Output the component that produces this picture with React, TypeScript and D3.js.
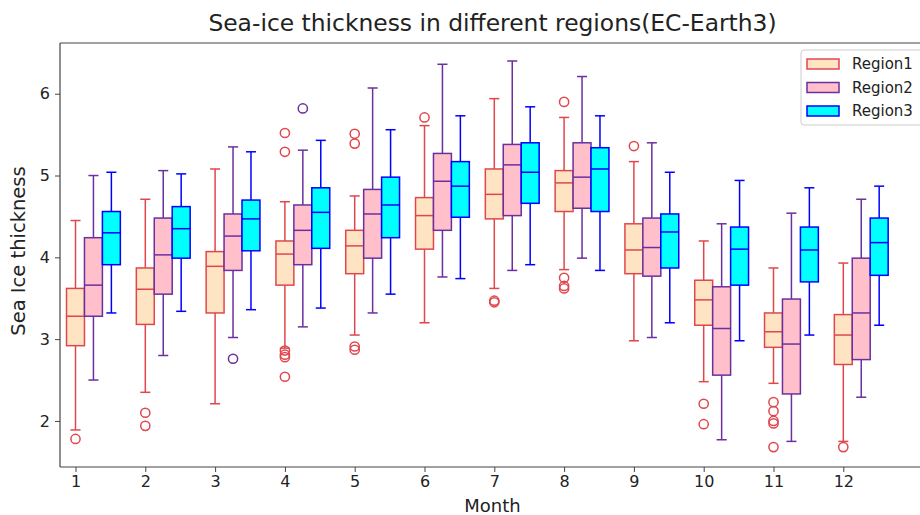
import React, { useEffect, useRef } from 'react';
import * as d3 from 'd3';

const months = [1, 2, 3, 4, 5, 6, 7, 8, 9, 10, 11, 12];
const regionNames = ['Region1', 'Region2', 'Region3'];

// per month: [lower whisker, q1, median, q3, upper whisker]
const region1Stats = [
  [1.89, 2.92, 3.28, 3.62, 4.45],
  [2.35, 3.18, 3.61, 3.87, 4.71],
  [2.21, 3.32, 3.89, 4.07, 5.08],
  [2.89, 3.66, 4.04, 4.20, 4.68],
  [3.05, 3.80, 4.14, 4.33, 4.75],
  [3.20, 4.10, 4.51, 4.73, 5.61],
  [3.62, 4.47, 4.77, 5.08, 5.94],
  [3.85, 4.56, 4.91, 5.06, 5.71],
  [2.98, 3.80, 4.09, 4.41, 5.17],
  [2.48, 3.17, 3.48, 3.72, 4.20],
  [2.46, 2.90, 3.09, 3.32, 3.87],
  [1.75, 2.69, 3.05, 3.30, 3.93],
];
const region2Stats = [
  [2.50, 3.28, 3.66, 4.24, 5.00],
  [2.80, 3.55, 4.03, 4.48, 5.06],
  [3.02, 3.84, 4.26, 4.53, 5.35],
  [3.15, 3.91, 4.33, 4.64, 5.31],
  [3.32, 3.99, 4.53, 4.83, 6.07],
  [3.76, 4.33, 4.93, 5.27, 6.36],
  [3.84, 4.51, 5.13, 5.38, 6.40],
  [3.99, 4.60, 4.98, 5.40, 6.21],
  [3.02, 3.77, 4.12, 4.48, 5.40],
  [1.77, 2.56, 3.13, 3.64, 4.41],
  [1.75, 2.33, 2.94, 3.49, 4.54],
  [2.29, 2.75, 3.32, 3.99, 4.71],
];
const region3Stats = [
  [3.32, 3.91, 4.30, 4.56, 5.04],
  [3.34, 3.99, 4.35, 4.62, 5.02],
  [3.36, 4.08, 4.47, 4.70, 5.29],
  [3.38, 4.11, 4.55, 4.85, 5.43],
  [3.55, 4.24, 4.64, 4.98, 5.56],
  [3.74, 4.49, 4.87, 5.17, 5.73],
  [3.91, 4.66, 5.04, 5.40, 5.84],
  [3.84, 4.56, 5.08, 5.34, 5.73],
  [3.20, 3.87, 4.31, 4.53, 5.04],
  [2.98, 3.66, 4.10, 4.37, 4.94],
  [3.05, 3.70, 4.09, 4.37, 4.85],
  [3.17, 3.78, 4.18, 4.48, 4.87],
];

const region1Outliers = [
  [1.78],
  [2.10, 1.94],
  [],
  [2.86, 2.81, 2.78, 2.54, 5.29, 5.52],
  [2.91, 2.87, 5.39, 5.51],
  [5.71],
  [3.45, 3.47],
  [5.90, 3.75, 3.65, 3.62],
  [5.36],
  [2.21, 1.96],
  [2.23, 2.12, 2.00, 1.97, 1.68],
  [1.68],
];
const region2Outliers = [[], [], [2.76], [5.82], [], [], [], [], [], [], [], []];
const region3Outliers = [[], [], [], [], [], [], [], [], [], [], [], []];

const allStats = [region1Stats, region2Stats, region3Stats];
const allOutliers = [region1Outliers, region2Outliers, region3Outliers];
const yTicks = [2, 3, 4, 5, 6];

const fills = ['bisque', 'pink', 'cyan'];
const edges = ['#e0474c', '#6b2fa0', '#0000ff'];

const W = 920, H = 515;
const plot = { left: 60, top: 43, right: 925, bottom: 467 };

function App() {
  const ref = useRef(null);

  useEffect(() => {
    const svg = d3.select(ref.current);
    svg.selectAll('*').remove();

    const x = d3.scaleLinear().domain([1, 12]).range([75.5, 843.3]);
    const y = d3.scaleLinear().domain([1.437, 6.62]).range([plot.bottom, plot.top]);
    const step = 0.257; // offset between regions, in months
    const bw = x(1 + step) - x(1);
    const font = 'DejaVu Sans, sans-serif';

    // title
    svg.append('text')
      .attr('x', (plot.left + plot.right) / 2).attr('y', 31)
      .attr('text-anchor', 'middle')
      .attr('font-family', font).attr('font-size', 23.4)
      .attr('fill', '#222')
      .text('Sea-ice thickness in different regions(EC-Earth3)');

    const g = svg.append('g');

    // boxes
    allStats.forEach((stats, r) => {
      stats.forEach((s, i) => {
        const cx = x(months[i] + r * step);
        const [lo, q1, med, q3, hi] = s;
        const grp = g.append('g').attr('stroke', edges[r]).attr('stroke-width', 1.5).attr('fill', 'none');
        grp.append('line').attr('x1', cx).attr('x2', cx).attr('y1', y(q1)).attr('y2', y(lo));
        grp.append('line').attr('x1', cx).attr('x2', cx).attr('y1', y(q3)).attr('y2', y(hi));
        grp.append('line').attr('x1', cx - bw * 0.28).attr('x2', cx + bw * 0.28).attr('y1', y(lo)).attr('y2', y(lo));
        grp.append('line').attr('x1', cx - bw * 0.28).attr('x2', cx + bw * 0.28).attr('y1', y(hi)).attr('y2', y(hi));
        grp.append('rect')
          .attr('x', cx - bw / 2).attr('y', y(q3))
          .attr('width', bw).attr('height', y(q1) - y(q3))
          .attr('fill', fills[r]);
        grp.append('line').attr('x1', cx - bw / 2).attr('x2', cx + bw / 2).attr('y1', y(med)).attr('y2', y(med));
        grp.selectAll('circle')
          .data(allOutliers[r][i])
          .join('circle')
          .attr('cx', cx).attr('cy', (d) => y(d)).attr('r', 4.6);
      });
    });

    // axes frame
    const axisColor = '#444';
    svg.append('line').attr('x1', plot.left).attr('x2', plot.left).attr('y1', plot.top).attr('y2', plot.bottom)
      .attr('stroke', axisColor).attr('stroke-width', 1.2);
    svg.append('line').attr('x1', plot.left).attr('x2', plot.right).attr('y1', plot.bottom).attr('y2', plot.bottom)
      .attr('stroke', axisColor).attr('stroke-width', 1.2);
    svg.append('line').attr('x1', plot.left).attr('x2', plot.right).attr('y1', plot.top).attr('y2', plot.top)
      .attr('stroke', axisColor).attr('stroke-width', 1.2);

    const xAxis = svg.append('g')
      .attr('transform', `translate(0,${plot.bottom})`)
      .call(d3.axisBottom(x).tickValues(months).tickFormat(d3.format('d')).tickSize(5).tickPadding(4));
    xAxis.select('.domain').remove();
    xAxis.selectAll('line').attr('stroke', axisColor);
    xAxis.selectAll('text').attr('font-family', font).attr('font-size', 16).attr('fill', '#222');

    const yAxis = svg.append('g')
      .attr('transform', `translate(${plot.left},0)`)
      .call(d3.axisLeft(y).tickValues(yTicks).tickFormat(d3.format('d')).tickSize(5).tickPadding(5));
    yAxis.select('.domain').remove();
    yAxis.selectAll('line').attr('stroke', axisColor);
    yAxis.selectAll('text').attr('font-family', font).attr('font-size', 16).attr('fill', '#222');

    // axis labels
    svg.append('text')
      .attr('x', (plot.left + plot.right) / 2).attr('y', 512)
      .attr('text-anchor', 'middle')
      .attr('font-family', font).attr('font-size', 18)
      .attr('fill', '#222')
      .text('Month');
    svg.append('text')
      .attr('transform', `translate(25,251) rotate(-90)`)
      .attr('text-anchor', 'middle')
      .attr('font-family', font).attr('font-size', 19.5)
      .attr('fill', '#222')
      .text('Sea Ice thickness');

    // legend
    const lg = svg.append('g').attr('transform', 'translate(801,50)');
    lg.append('rect')
      .attr('width', 130).attr('height', 75).attr('rx', 3)
      .attr('fill', 'white').attr('fill-opacity', 0.8)
      .attr('stroke', '#ccc');
    regionNames.forEach((name, r) => {
      const cy = 14 + r * 23.5;
      lg.append('rect')
        .attr('x', 6).attr('y', cy - 5).attr('width', 32).attr('height', 10)
        .attr('fill', fills[r]).attr('stroke', edges[r]).attr('stroke-width', 1.5);
      lg.append('text')
        .attr('x', 51).attr('y', cy).attr('dy', '0.36em')
        .attr('font-family', font).attr('font-size', 15)
        .attr('fill', '#222')
        .text(name);
    });
  }, []);

  return (
    <svg ref={ref} width={W} height={H}
      style={{ position: 'absolute', left: 0, top: 0, background: 'white' }} />
  );
}

export default App;
